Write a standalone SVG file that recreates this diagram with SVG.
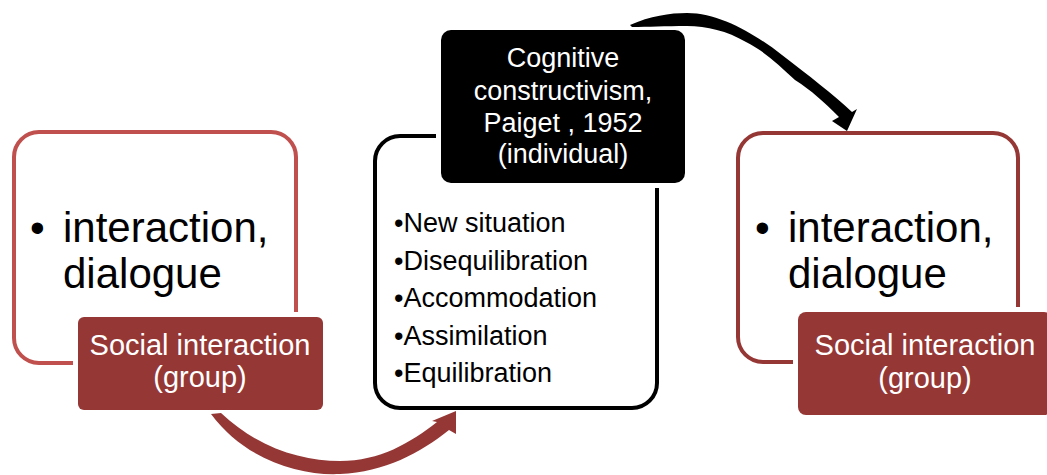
<svg xmlns="http://www.w3.org/2000/svg" width="1047" height="475" viewBox="0 0 1047 475">
<style>
.big{font-family:"Liberation Sans",Arial,sans-serif;font-size:42px;fill:#000}
.lbl{font-family:"Liberation Sans",Arial,sans-serif;font-size:29px;fill:#fff;text-anchor:middle}
.ttl{font-family:"Liberation Sans",Arial,sans-serif;font-size:27px;fill:#fff;text-anchor:middle}
.lst{font-family:"Liberation Sans",Arial,sans-serif;font-size:27px;fill:#000}
.gap{fill:#fff}
</style>
<rect width="1047" height="475" fill="#fff"/>
<g id="node-left">
  <rect x="14" y="132" width="282" height="231" rx="25" fill="#fff" stroke="#C0504D" stroke-width="4"/>
  <text class="big" x="30" y="242">•</text>
  <text class="big" x="63" y="242">interaction,</text>
  <text class="big" x="63" y="288">dialogue</text>
</g>
<g id="node-left-label">
  <rect class="gap" x="73" y="312" width="255" height="103" rx="9"/>
  <rect x="78" y="317" width="245" height="93" rx="6" fill="#953735"/>
  <text class="lbl" x="200" y="355">Social interaction</text>
  <text class="lbl" x="200" y="387">(group)</text>
</g>
<g id="node-middle">
  <rect x="375" y="136" width="282" height="272" rx="25" fill="#fff" stroke="#000" stroke-width="4"/>
  <text class="lst" x="394" y="232">•New situation</text>
  <text class="lst" x="394" y="270">•Disequilibration</text>
  <text class="lst" x="394" y="307">•Accommodation</text>
  <text class="lst" x="394" y="345">•Assimilation</text>
  <text class="lst" x="394" y="382">•Equilibration</text>
</g>
<g id="node-title">
  <rect class="gap" x="436" y="25" width="254" height="163" rx="13"/>
  <rect x="441" y="30" width="244" height="153" rx="10" fill="#000"/>
  <text class="ttl" x="563" y="67">Cognitive</text>
  <text class="ttl" x="563" y="100">constructivism,</text>
  <text class="ttl" x="563" y="132">Paiget , 1952</text>
  <text class="ttl" x="563" y="163">(individual)</text>
</g>
<g id="node-right">
  <rect x="738" y="133" width="280" height="229" rx="25" fill="#fff" stroke="#953735" stroke-width="4"/>
  <text class="big" x="755" y="242">•</text>
  <text class="big" x="788" y="242">interaction,</text>
  <text class="big" x="788" y="288">dialogue</text>
</g>
<g id="node-right-label">
  <rect class="gap" x="793" y="307" width="264" height="113" rx="11"/>
  <rect x="798" y="312" width="254" height="103" rx="8" fill="#953735"/>
  <text class="lbl" x="925" y="355">Social interaction</text>
  <text class="lbl" x="925" y="388">(group)</text>
</g>
<g id="connectors">
  <path d="M630,25 C650,16 670,13 687,13 C720,13 755,34 782,55 C808,75 834,95 852,112 L857,109 L847,131 L832,121 L839,117 C823,101 812,91 795,80 C778,64 764,51 746,42 C727,31 707,26 687,26 C665,26 648,27 632,27 Z" fill="#000"/>
  <path d="M211,414 C245,460 300,476 340,474 C385,472 420,453 449,430 L456,434 L456,411 L432,421 L437,422 C410,443 380,461 340,461 C302,461 258,448 221,413 Z" fill="#953735"/>
</g>
</svg>
